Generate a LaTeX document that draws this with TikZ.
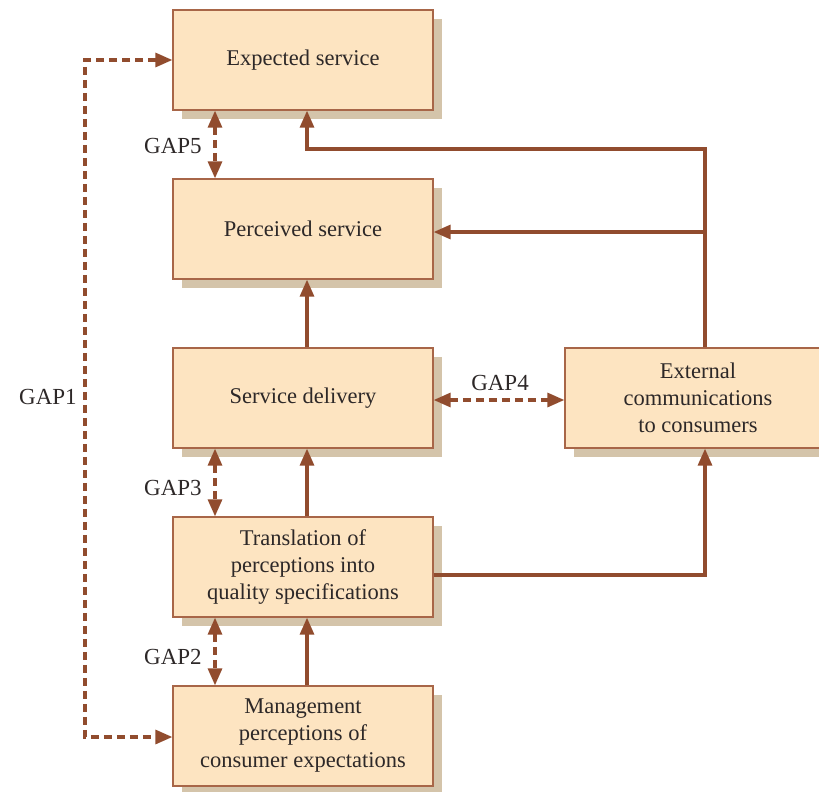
\documentclass[tikz,border=0pt]{standalone}
\usepackage{fontspec}
\setmainfont{Liberation Serif}
\usetikzlibrary{arrows.meta}
\definecolor{boxfill}{RGB}{253,228,193}
\definecolor{boxline}{RGB}{168,102,72}
\definecolor{shadowc}{RGB}{212,196,170}
\definecolor{arrowc}{RGB}{145,76,46}
\definecolor{txt}{RGB}{45,40,40}
\tikzset{
  stagebox/.style={draw=boxline, line width=1.3pt, fill=boxfill, minimum width=260pt,
    minimum height=100pt, align=center, text=txt, font=\fontsize{22.5}{27}\selectfont,
    inner sep=0pt},
  flow/.style={draw=arrowc, line width=3.2pt, -{Triangle[length=17pt,width=14pt]}},
  gap/.style={draw=arrowc, line width=3.2pt, dash pattern=on 8pt off 5pt,
    {Triangle[length=17pt,width=14pt]}-{Triangle[length=17pt,width=14pt]}},
  gaplabel/.style={text=txt, font=\fontsize{23}{26}\selectfont}
}
\begin{document}
\begin{tikzpicture}[x=1pt,y=-1pt]
\useasboundingbox (0,0) rectangle (819,792);
\clip (0,0) rectangle (819,792);
% drop shadows
\fill[shadowc] (182,19) rectangle (442,119);
\fill[shadowc] (182,188) rectangle (442,288);
\fill[shadowc] (182,357) rectangle (442,457);
\fill[shadowc] (182,526) rectangle (442,626);
\fill[shadowc] (182,695) rectangle (442,795);
\fill[shadowc] (574,357) rectangle (840,457);
% stage boxes
\node[stagebox] (exp) at (303,60) {Expected service};
\node[stagebox] (per) at (303,229) {Perceived service};
\node[stagebox] (del) at (303,398) {Service delivery};
\node[stagebox] (tra) at (303,567) {Translation of\\perceptions into\\quality specifications};
\node[stagebox] (man) at (303,736) {Management\\perceptions of\\consumer expectations};
\node[stagebox, minimum width=266pt] (ext) at (698,398) {External\\communications\\to consumers};
% solid flows
\draw[flow] (man.north -| 307,0) -- (tra.south -| 307,0);
\draw[flow] (tra.north -| 307,0) -- (del.south -| 307,0);
\draw[flow] (del.north -| 307,0) -- (per.south -| 307,0);
\coordinate (ej) at (705,149);
\draw[flow] (ext.north -| ej) -- (ej) -- (307,149) -- (exp.south -| 307,0);
\draw[flow] (705,232) -- (per.east |- 0,232);
\draw[flow] (tra.east |- 0,575) -- (705,575) -- (ext.south -| ej);
% gaps
\draw[gap] (exp.south -| 215,0) -- (per.north -| 215,0);
\draw[gap] (del.south -| 215,0) -- (tra.north -| 215,0);
\draw[gap] (tra.south -| 215,0) -- (man.north -| 215,0);
\draw[gap] (del.east |- 0,400) -- (ext.west |- 0,400);
\coordinate (g1a) at (85,60);
\coordinate (g1b) at (85,737);
\draw[gap] (exp.west |- g1a) -- (g1a) -- (g1b) -- (man.west |- g1b);
\node[gaplabel] (l5) at (173,146) {GAP5};
\node[gaplabel] (l3) at (173,488) {GAP3};
\node[gaplabel] (l2) at (173,657) {GAP2};
\node[gaplabel] (l4) at (500,383) {GAP4};
\node[gaplabel] (l1) at (48,397) {GAP1};
\end{tikzpicture}
\end{document}
